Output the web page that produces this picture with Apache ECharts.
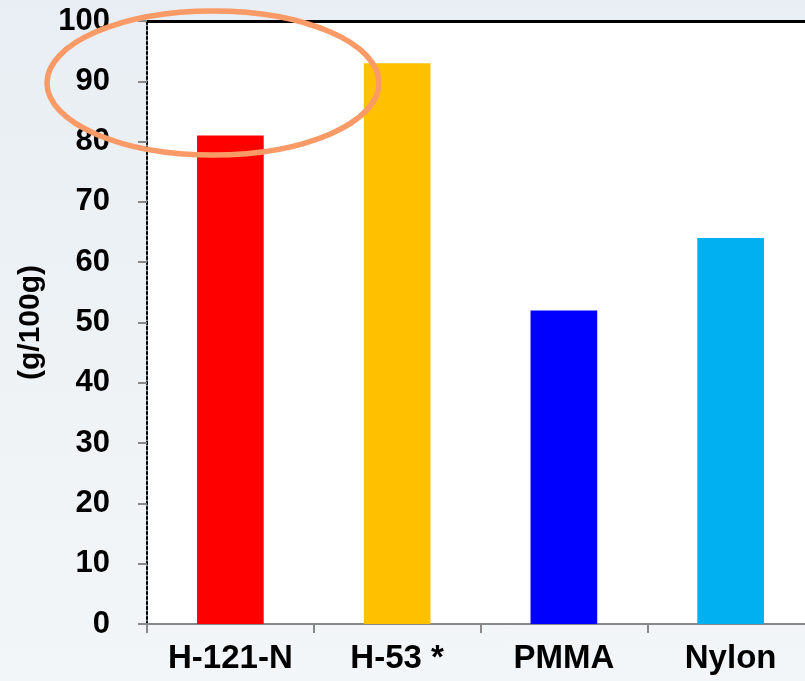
<!DOCTYPE html>
<html><head><meta charset="utf-8">
<style>html,body{margin:0;padding:0;}#c{width:805px;height:681px;background:linear-gradient(#E8EEF3,#F3F6F8);}</style>
<script src="https://cdn.jsdelivr.net/npm/echarts@6/dist/echarts.min.js"></script>
</head><body><div id="c"></div>
<script>
const categories = ['H-121-N', 'H-53 *', 'PMMA', 'Nylon'];
const values = [81, 93, 52, 64];
const barColors = ['#FF0000', '#FFC000', '#0000FF', '#00B0F0'];
const yTicks = [0, 10, 20, 30, 40, 50, 60, 70, 80, 90, 100];

const chart = echarts.init(document.getElementById('c'));
const font = '"Liberation Sans", Arial, sans-serif';
chart.setOption({
  animation: false,
  grid: { left: 147, top: 21, height: 603, width: 667, outerBoundsMode: 'none', containLabel: false,
          backgroundColor: '#FFFFFF', show: true, borderWidth: 0 },
  xAxis: [{
    type: 'category', data: categories, position: 'bottom',
    axisLine: { lineStyle: { color: '#888888', width: 2 } },
    axisTick: { show: true, alignWithLabel: false, length: 9, lineStyle: { color: '#888888', width: 2 } },
    axisLabel: { color: '#000', fontFamily: font, fontWeight: 'bold', fontSize: 33, margin: 18 }
  }, {
    type: 'category', data: categories, position: 'top',
    axisLine: { show: true, onZero: false, lineStyle: { color: '#000000', width: 3 } },
    axisTick: { show: false }, axisLabel: { show: false }
  }],
  yAxis: [{
    type: 'value', min: yTicks[0], max: yTicks[yTicks.length - 1], interval: 10,
    name: '(g/100g)', nameLocation: 'middle', nameGap: 101, nameRotate: 90,
    nameTextStyle: { color: '#000', fontFamily: font, fontWeight: 'bold', fontSize: 30 },
    axisLine: { show: true, onZero: false, lineStyle: { color: '#888888', width: 2 } },
    axisTick: { show: true, length: 9, lineStyle: { color: '#888888', width: 2 } },
    axisLabel: { color: '#000', fontFamily: font, fontWeight: 'bold', fontSize: 31, margin: 37 },
    splitLine: { show: false }
  }, {
    type: 'value', min: yTicks[0], max: yTicks[yTicks.length - 1], interval: 10, position: 'left',
    axisLine: { show: true, onZero: false, lineStyle: { color: '#000000', width: 2, type: [2, 3] } },
    axisTick: { show: false }, axisLabel: { show: false }, splitLine: { show: false }
  }],
  series: [{
    type: 'bar', barWidth: '40%', xAxisIndex: 0, yAxisIndex: 0,
    data: values.map((v, i) => ({ value: v, itemStyle: { color: barColors[i] } }))
  }],
  graphic: [{
    type: 'ellipse', shape: { cx: 213, cy: 83, rx: 166, ry: 72 },
    style: { fill: 'none', stroke: '#FA9A66', lineWidth: 5.5 }, z: 100
  }]
});
</script></body></html>
